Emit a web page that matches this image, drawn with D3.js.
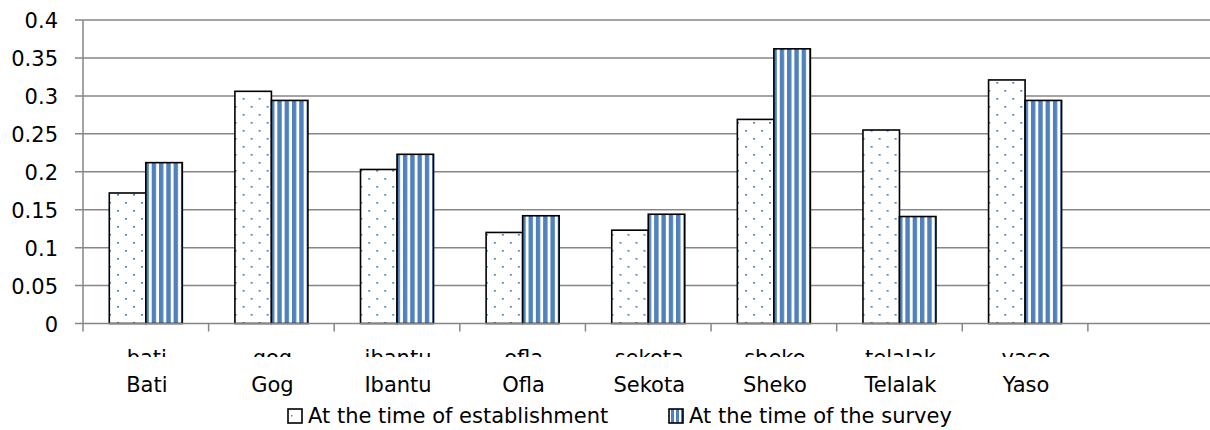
<!DOCTYPE html>
<html>
<head>
<meta charset="utf-8">
<script src="https://cdn.jsdelivr.net/npm/d3@7"></script>
<style>
  html, body { margin: 0; padding: 0; background: #fff; }
  svg { display: block; }
  text { font-family: "DejaVu Sans", sans-serif; fill: #000; }
</style>
</head>
<body>
<svg id="chart" width="1210" height="430"></svg>
<script>
const categories = ["Bati", "Gog", "Ibantu", "Ofla", "Sekota", "Sheko", "Telalak", "Yaso"];
const rawLabels = ["bati", "gog", "ibantu", "ofla", "sekota", "sheko", "telalak", "yaso"];
const seriesNames = ["At the time of establishment", "At the time of the survey"];
const establishment = [0.172, 0.306, 0.203, 0.120, 0.123, 0.269, 0.255, 0.321];
const survey = [0.212, 0.294, 0.223, 0.142, 0.144, 0.362, 0.141, 0.294];
const yTicks = [0, 0.05, 0.1, 0.15, 0.2, 0.25, 0.3, 0.35, 0.4];
const yTickLabels = ["0", "0.05", "0.1", "0.15", "0.2", "0.25", "0.3", "0.35", "0.4"];

const svg = d3.select("#chart");
const plotLeft = 83, plotRight = 1213.5, plotTop = 20, plotBottom = 323.5;
const blue = "#4F81BD";

const slots = categories.concat([" "]);  // empty trailing slot on the category axis
const x0 = d3.scaleBand().domain(slots).range([plotLeft, plotRight]).padding(0);
const x1 = d3.scaleBand().domain([0, 1]).range([0, x0.bandwidth()]).paddingInner(0).paddingOuter(0.72);
const y = d3.scaleLinear().domain([0, 0.4]).range([plotBottom, plotTop]);

// patterns
const defs = svg.append("defs");
const dots = defs.append("pattern").attr("id", "dots").attr("patternUnits", "userSpaceOnUse")
  .attr("width", 16).attr("height", 16).attr("x", 114).attr("y", 2);
dots.append("rect").attr("width", 16).attr("height", 16).attr("fill", "#fff");
dots.append("rect").attr("x", 0).attr("y", 0).attr("width", 2).attr("height", 1.6).attr("fill", blue);
dots.append("rect").attr("x", 8).attr("y", 8).attr("width", 2).attr("height", 1.6).attr("fill", blue);

const stripes = defs.append("pattern").attr("id", "stripes").attr("patternUnits", "userSpaceOnUse")
  .attr("width", 7.3).attr("height", 10).attr("x", 149).attr("y", 0);
stripes.append("rect").attr("width", 7.3).attr("height", 10).attr("fill", "#fff");
stripes.append("rect").attr("x", 0).attr("width", 4.4).attr("height", 10).attr("fill", blue);

const legendStripes = defs.append("pattern").attr("id", "lstripes").attr("patternUnits", "userSpaceOnUse")
  .attr("width", 5).attr("height", 10).attr("x", 672).attr("y", 0);
legendStripes.append("rect").attr("width", 5).attr("height", 10).attr("fill", "#fff");
legendStripes.append("rect").attr("x", 0).attr("width", 3).attr("height", 10).attr("fill", blue);

// gridlines
svg.append("g").selectAll("line").data(yTicks.filter(d => d > 0)).join("line")
  .attr("x1", plotLeft - 8).attr("x2", 1210)
  .attr("y1", d => y(d)).attr("y2", d => y(d))
  .attr("stroke", "#868686").attr("stroke-width", 1.5);

// y tick labels
svg.append("g").selectAll("text").data(yTicks).join("text")
  .attr("x", 58).attr("y", d => y(d) + 8)
  .attr("text-anchor", "end").attr("font-size", 21)
  .text((d, i) => yTickLabels[i]);

// bars
const fills = ["url(#dots)", "url(#stripes)"];
const seriesData = [establishment, survey];
const groups = svg.append("g").selectAll("g").data(categories).join("g")
  .attr("transform", d => `translate(${x0(d)},0)`);
groups.selectAll("rect").data((d, i) => [0, 1].map(s => ({ s, v: seriesData[s][i] }))).join("rect")
  .attr("x", d => x1(d.s)).attr("width", x1.bandwidth())
  .attr("y", d => y(d.v)).attr("height", d => y(0) - y(d.v))
  .attr("fill", d => fills[d.s])
  .attr("stroke", "#000").attr("stroke-width", 1.6);

// axes lines
svg.append("line").attr("x1", plotLeft).attr("x2", plotLeft).attr("y1", plotTop).attr("y2", plotBottom)
  .attr("stroke", "#868686").attr("stroke-width", 1.5);
svg.append("line").attr("x1", plotLeft - 8).attr("x2", 1210).attr("y1", y(0)).attr("y2", y(0))
  .attr("stroke", "#868686").attr("stroke-width", 1.5);

// category tick marks
const boundaries = slots.map(s => x0(s));
svg.append("g").selectAll("line").data(boundaries).join("line")
  .attr("x1", d => d).attr("x2", d => d)
  .attr("y1", y(0)).attr("y2", y(0) + 8)
  .attr("stroke", "#868686").attr("stroke-width", 1.5);

// clipped raw labels (only top shows)
defs.append("clipPath").attr("id", "rawclip").append("rect")
  .attr("x", 0).attr("y", 330).attr("width", 1210).attr("height", 27);
svg.append("g").attr("clip-path", "url(#rawclip)").selectAll("text").data(categories).join("text")
  .attr("x", d => x0(d) + x0.bandwidth() / 2 + 1)
  .attr("y", 365).attr("text-anchor", "middle").attr("font-size", 21)
  .text((d, i) => rawLabels[i]);

// category labels
svg.append("g").selectAll("text").data(categories).join("text")
  .attr("x", d => x0(d) + x0.bandwidth() / 2 + 1)
  .attr("y", 392).attr("text-anchor", "middle").attr("font-size", 21)
  .text(d => d);

// legend
const legendX = [288, 669];
const lg = svg.append("g").selectAll("g").data(seriesNames).join("g")
  .attr("transform", (d, i) => `translate(${legendX[i]},409)`);
lg.append("rect").attr("width", 14).attr("height", 14)
  .attr("fill", (d, i) => i === 0 ? "#fff" : "url(#lstripes)")
  .attr("stroke", "#000").attr("stroke-width", 1.6);
lg.filter((d, i) => i === 0).append("rect").attr("x", 3).attr("y", 6).attr("width", 1.5).attr("height", 1.5).attr("fill", blue);
lg.append("text").attr("x", 20).attr("y", 14).attr("font-size", 21).text(d => d);
</script>
</body>
</html>
